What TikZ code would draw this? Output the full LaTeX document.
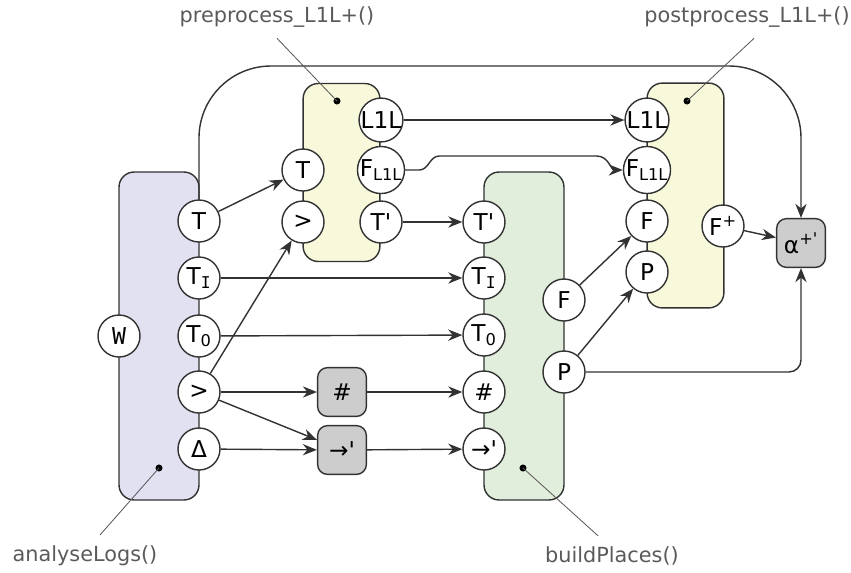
\documentclass[tikz,border=0pt]{standalone}
\usepackage{fontspec}
\usepackage{tikz}
\usetikzlibrary{positioning, arrows.meta}

\newfontfamily\dejavu{DejaVu Sans}
\newfontfamily\dejavumono{DejaVu Sans Mono}

\definecolor{linecol}{RGB}{50,50,50}
\definecolor{labelcol}{RGB}{90,90,90}
\definecolor{logsfill}{RGB}{225,225,242}
\definecolor{procfill}{RGB}{248,248,218}
\definecolor{placefill}{RGB}{226,238,220}
\definecolor{opfill}{RGB}{205,205,205}

\begin{document}
\begin{tikzpicture}[
    x=0.25mm, y=-0.25mm,
    >={Stealth[length=10pt, width=8pt]},
    block/.style={
      draw=linecol,
      line width=1pt,
      rounded corners=0.38cm,
      inner sep=0pt,
    },
    port/.style={
      circle,
      draw=linecol,
      fill=white,
      line width=1pt,
      minimum size=1.05cm,
      inner sep=0pt,
      font=\dejavu\fontsize{16.5}{19}\selectfont,
    },
    op/.style={
      draw=linecol,
      fill=opfill,
      line width=1pt,
      rounded corners=0.25cm,
      minimum size=1.22cm,
      inner sep=0pt,
      font=\dejavu\fontsize{16.5}{19}\selectfont,
    },
    flow/.style={
      ->,
      draw=linecol,
      line width=1pt,
    },
    pin/.style={
      circle,
      fill=black,
      minimum size=5pt,
      inner sep=0pt,
    },
    callout/.style={
      draw=labelcol,
      line width=0.6pt,
    },
    fname/.style={
      font=\dejavu\fontsize{14.8}{17}\selectfont,
      text=labelcol,
    },
  ]
  \useasboundingbox (0,0) rectangle (851,572);

  % --- function blocks ---
  \node[block, fill=logsfill, minimum width=2cm, minimum height=8.2cm] (logs) at (159,336) {};
  \node[block, fill=procfill, minimum width=1.92cm, minimum height=4.45cm] (pre) at (341.5,172.5) {};
  \node[block, fill=placefill, minimum width=2cm, minimum height=8.2cm] (places) at (524,336) {};
  \node[block, fill=procfill, minimum width=1.92cm, minimum height=5.62cm] (post) at (685.5,195.5) {};

  % --- top loop from analyseLogs to the result ---
  \coordinate (topline) at (0,66);
  \node[op] (alpha) at (801,243) {α\textsuperscript{+'}};

  % --- analyseLogs() ports ---
  \node[port] (lW) at (119,336) {\dejavumono W};
  \node[port] (lT) at (199,221) {T};
  \node[port] (lTi) at (199,278) {T\textsubscript{\dejavumono I}};
  \node[port] (lTo) at (199,336) {T\textsubscript{0}};
  \node[port] (lGt) at (199,392) {>};
  \node[port] (lDelta) at (199,449) {Δ};

  % --- preprocess ports ---
  \node[port] (pT) at (303,170) {T};
  \node[port] (pGt) at (303,222) {>};
  \node[port] (pL1L) at (381,120) {L1L};
  \node[port] (pF) at (381,170) {F\textsubscript{L1L}};
  \node[port] (pTp) at (381,222) {T'};

  % --- operators ---
  \node[op] (oHash) at (342,392) {\#};
  \node[op] (oArrow) at (342,450) {→'};

  % --- buildPlaces() ports ---
  \node[port] (bTp) at (484,222) {T'};
  \node[port] (bTi) at (484,278) {T\textsubscript{\dejavumono I}};
  \node[port] (bTo) at (484,335) {T\textsubscript{0}};
  \node[port] (bHash) at (484,392) {\#};
  \node[port] (bArrow) at (484,449) {→'};
  \node[port] (bF) at (564,300) {F};
  \node[port] (bP) at (564,372) {P};

  % --- postprocess ports ---
  \node[port] (qL1L) at (647,120) {L1L};
  \node[port] (qF) at (647,170) {F\textsubscript{L1L}};
  \node[port] (qFF) at (647,221) {F};
  \node[port] (qP) at (647,272) {P};
  \node[port] (qFp) at (723,226) {F\textsuperscript{+}};

  % --- connections ---
  \draw[flow] (lT) -- (pT);
  \draw[flow] (lGt) -- (pGt);
  \draw[flow] (lTi) -- (bTi);
  \draw[flow] (lTo) -- (bTo);
  \draw[flow] (lGt) -- (oHash);
  \draw[flow] (lGt) -- (oArrow);
  \draw[flow] (lDelta) -- (oArrow);
  \draw[flow] (oHash) -- (bHash);
  \draw[flow] (oArrow) -- (bArrow);
  \draw[flow] (pTp) -- (bTp);
  \draw[flow] (pL1L) -- (qL1L);
  \draw[flow] (pF.east) -- ++(14,0) to[out=0, in=180] ++(20,-14)
    -- ([shift={(-26,-14)}]qF.west) to[out=0, in=180] (qF.west);
  \draw[flow] (bF) -- (qFF);
  \draw[flow] (bP) -- (qP);
  \draw[flow] (qFp) -- (alpha);
  \draw[flow, rounded corners=0.3cm] (bP.east) -| (alpha.south);
  \draw[flow, rounded corners=1.8cm]
    (lT.north) -- (lT.north |- topline) -- (alpha.north |- topline) -- (alpha.north);

  % --- function name callouts ---
  \node[pin] (logsPin) at (159,468) {};
  \node[pin] (prePin) at (337,101) {};
  \node[pin] (placesPin) at (523,468) {};
  \node[pin] (postPin) at (687,101) {};

  \node[fname] (logsName) at (85,556) {analyseLogs()};
  \node[fname] (preName) at (277,17) {preprocess\_L1L+()};
  \node[fname] (placesName) at (612,556) {buildPlaces()};
  \node[fname] (postName) at (747,17) {postprocess\_L1L+()};

  \draw[callout] (logsPin.center) -- ([shift={(15,-6)}]logsName.north);
  \draw[callout] (prePin.center) -- ([shift={(0,6)}]preName.south);
  \draw[callout] (placesPin.center) -- ([shift={(-14,-6)}]placesName.north);
  \draw[callout] (postPin.center) -- ([shift={(7,6)}]postName.south);

\end{tikzpicture}
\end{document}
